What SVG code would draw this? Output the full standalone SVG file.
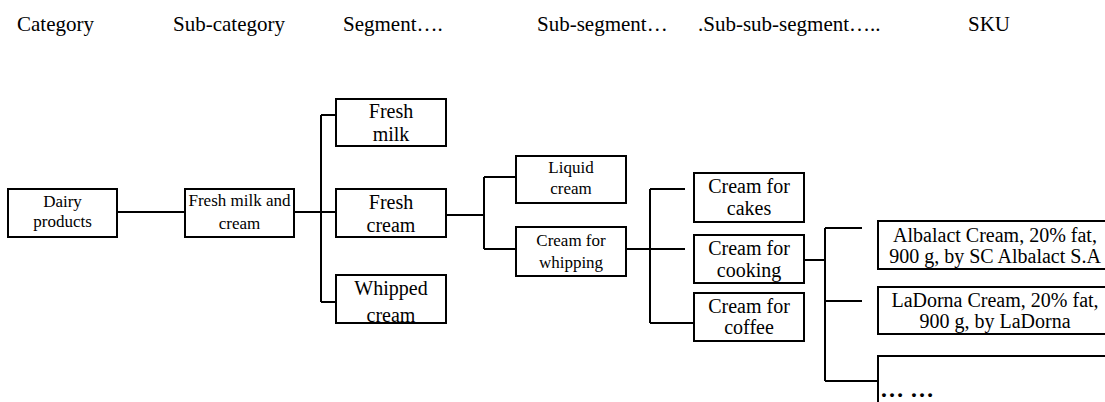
<svg xmlns="http://www.w3.org/2000/svg" width="1105" height="402" viewBox="0 0 1105 402">
<style>
.b{fill:#fff;stroke:#000;stroke-width:2}
.c{fill:none;stroke:#000;stroke-width:2}
.h{font-size:21px}
.t{font-size:20px;text-anchor:middle}
.s{font-size:17px;text-anchor:middle}
</style>
<rect width="1105" height="402" fill="#fff"/>
<g font-family="Liberation Serif, Times New Roman, DejaVu Serif, serif" fill="#000">
<g id="headers">
<text class="h" x="17" y="31">Category</text>
<text class="h" x="173" y="31">Sub-category</text>
<text class="h" x="343" y="31">Segment….</text>
<text class="h" x="537" y="31">Sub-segment…</text>
<text class="h" x="698" y="31">.Sub-sub-segment…..</text>
<text class="h" x="968" y="31">SKU</text>
</g>
<g id="connectors">
<path class="c" d="M117,212H185"/>
<path class="c" d="M294,212H336M321,115V302M321,115H336M321,302H336"/>
<path class="c" d="M446,215H484M484,177V249M484,177H516M484,249H516"/>
<path class="c" d="M626,249H650M650,189V323M650,189H685M650,249H685M650,323H694"/>
<path class="c" d="M804,260H825M825,228V381M825,228H862M825,301H862M825,381H878"/>
</g>
<g id="dairy"><rect class="b" x="8" y="189" width="109" height="48"/><text class="s" x="62.5" y="207">Dairy</text><text class="s" x="62.5" y="227">products</text></g>
<g id="fmc"><rect class="b" x="185" y="189" width="109" height="48"/><text class="s" x="239.5" y="206" font-size="18">Fresh milk and</text><text class="s" x="239.5" y="229" font-size="18">cream</text></g>
<g id="freshmilk"><rect class="b" x="336" y="99" width="110" height="47"/><text class="t" x="391" y="118">Fresh</text><text class="t" x="391" y="141">milk</text></g>
<g id="freshcream"><rect class="b" x="336" y="189" width="110" height="48"/><text class="t" x="391" y="209">Fresh</text><text class="t" x="391" y="232">cream</text></g>
<g id="whipped"><rect class="b" x="336" y="275" width="110" height="48"/><text class="t" x="391" y="295">Whipped</text><text class="t" x="391" y="322">cream</text></g>
<g id="liquid"><rect class="b" x="516" y="156" width="110" height="47"/><text class="s" x="571" y="173">Liquid</text><text class="s" x="571" y="194">cream</text></g>
<g id="whipping"><rect class="b" x="516" y="227" width="110" height="49"/><text class="s" x="571" y="246">Cream for</text><text class="s" x="571" y="268">whipping</text></g>
<g id="cakes"><rect class="b" x="694" y="173" width="110" height="49"/><text class="t" x="749" y="193">Cream for</text><text class="t" x="749" y="215">cakes</text></g>
<g id="cooking"><rect class="b" x="694" y="235" width="110" height="48"/><text class="t" x="749" y="255">Cream for</text><text class="t" x="749" y="277">cooking</text></g>
<g id="coffee"><rect class="b" x="694" y="293" width="110" height="48"/><text class="t" x="749" y="313">Cream for</text><text class="t" x="749" y="334">coffee</text></g>
<g id="albalact"><rect class="b" x="878" y="221" width="240" height="48"/><text class="t" x="995" y="242">Albalact Cream, 20% fat,</text><text class="t" x="995" y="263">900 g, by SC Albalact S.A</text></g>
<g id="ladorna"><rect class="b" x="878" y="287" width="240" height="47"/><text class="t" x="995" y="307">LaDorna Cream, 20% fat,</text><text class="t" x="995" y="328">900 g, by LaDorna</text></g>
<g id="more"><rect class="b" x="878" y="356" width="240" height="60"/><text x="880" y="397" font-size="24" font-weight="bold">… …</text></g>
</g>
</svg>
